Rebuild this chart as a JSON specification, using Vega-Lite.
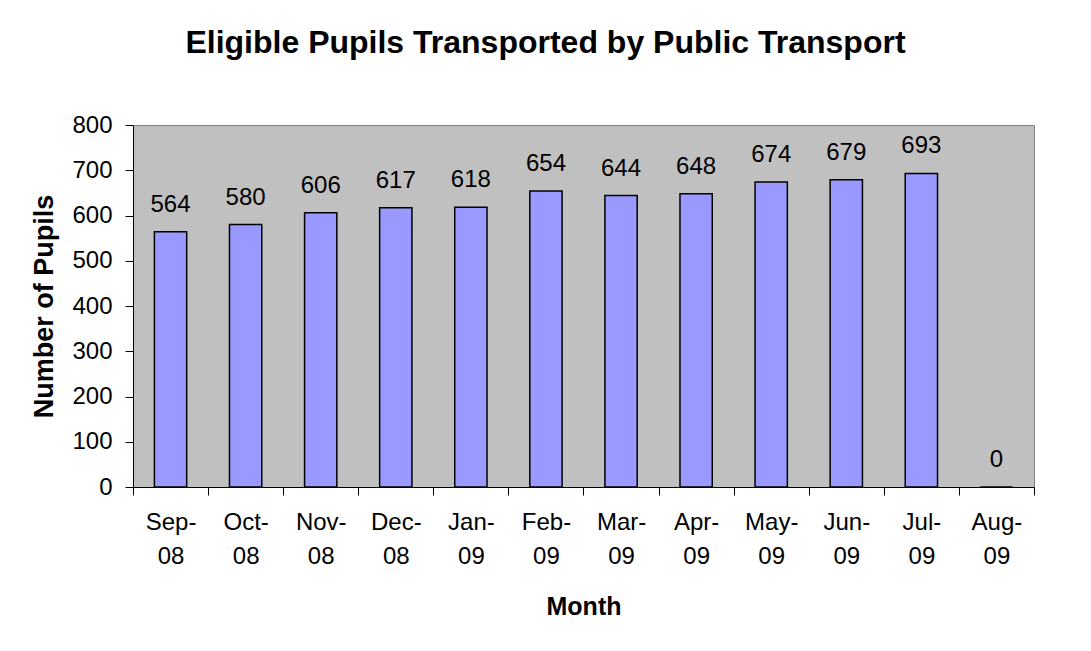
{
  "$schema": "https://vega.github.io/schema/vega-lite/v6.json",
  "width": 901,
  "height": 362,
  "autosize": {"type": "none"},
  "padding": {"left": 133, "top": 125, "right": 57, "bottom": 164},
  "background": "white",
  "title": {
    "text": "Eligible Pupils Transported by Public Transport",
    "font": "Liberation Sans",
    "fontSize": 32,
    "fontWeight": "bold",
    "color": "black",
    "anchor": "middle",
    "baseline": "alphabetic",
    "dx": -38,
    "offset": 28
  },
  "data": {
    "values": [
      {"month": "Sep-08", "pupils": 564},
      {"month": "Oct-08", "pupils": 580},
      {"month": "Nov-08", "pupils": 606},
      {"month": "Dec-08", "pupils": 617},
      {"month": "Jan-09", "pupils": 618},
      {"month": "Feb-09", "pupils": 654},
      {"month": "Mar-09", "pupils": 644},
      {"month": "Apr-09", "pupils": 648},
      {"month": "May-09", "pupils": 674},
      {"month": "Jun-09", "pupils": 679},
      {"month": "Jul-09", "pupils": 693},
      {"month": "Aug-09", "pupils": 0}
    ]
  },
  "encoding": {
    "x": {
      "field": "month",
      "type": "nominal",
      "sort": null,
      "scale": {"paddingInner": 0, "paddingOuter": 0},
      "axis": {
        "title": "Month",
        "titleFont": "Liberation Sans",
        "titleFontSize": 25,
        "titleFontWeight": "bold",
        "titleColor": "black",
        "titlePadding": 26,
        "labelFont": "Liberation Sans",
        "labelFontSize": 24,
        "labelColor": "black",
        "labelAngle": 0,
        "labelPadding": 15,
        "labelLineHeight": 34,
        "labelExpr": "[slice(datum.label,0,4), slice(datum.label,4)]",
        "tickBand": "extent",
        "tickSize": 8,
        "tickColor": "black",
        "domainColor": "black",
        "domainWidth": 1,
        "grid": false
      }
    },
    "y": {
      "field": "pupils",
      "type": "quantitative",
      "scale": {"domain": [0, 800], "nice": false},
      "axis": {
        "title": "Number of Pupils",
        "titleFont": "Liberation Sans",
        "titleFontSize": 27,
        "titleFontWeight": "bold",
        "titleColor": "black",
        "titlePadding": 13,
        "values": [0, 100, 200, 300, 400, 500, 600, 700, 800],
        "labelFont": "Liberation Sans",
        "labelFontSize": 24,
        "labelColor": "black",
        "labelPadding": 13,
        "tickSize": 8,
        "tickColor": "black",
        "domainColor": "black",
        "grid": false
      }
    }
  },
  "layer": [
    {
      "mark": {"type": "bar", "fill": "#9999FF", "stroke": "black", "strokeWidth": 1.5, "width": {"band": 0.43}}
    },
    {
      "mark": {
        "type": "text",
        "baseline": "alphabetic",
        "dy": -20,
        "font": "Liberation Sans",
        "fontSize": 24,
        "color": "black"
      },
      "encoding": {"text": {"field": "pupils", "type": "quantitative"}}
    }
  ],
  "config": {
    "view": {"fill": "#C0C0C0", "stroke": "#808080", "strokeWidth": 1}
  }
}
